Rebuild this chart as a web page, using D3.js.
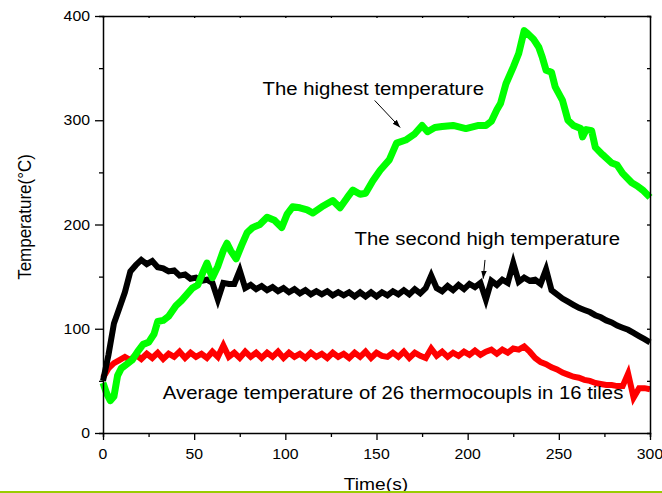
<!DOCTYPE html>
<html>
<head>
<meta charset="utf-8">
<script src="https://cdn.jsdelivr.net/npm/d3@7"></script>
<style>
  body { margin: 0; background: #fff; }
  text { font-family: "Liberation Sans", Arial, sans-serif; fill: #000; }
</style>
</head>
<body>
<svg width="662" height="493"></svg>
<script>
// highest temperature (green)
var highTime = [0, 2, 4, 6, 8, 10, 13, 16, 19, 22, 25, 28, 30, 33, 36, 40, 43, 46, 49, 52, 55, 57, 60, 63, 66, 68, 70, 73, 76, 79, 82, 86, 90, 94, 98, 101, 104, 108, 112, 115, 120, 126, 130, 134, 137, 141, 144, 148, 152, 157, 161, 166, 171, 175, 178, 182, 186, 192, 199, 206, 210, 213, 216, 218, 221, 225, 228, 231, 233, 236, 239, 241, 243, 246, 248, 252, 255, 258, 262, 263, 265, 268, 270, 274, 279, 282, 285, 290, 293, 296, 300];
var highTemp = [48, 38, 31, 35, 55, 62, 66, 70, 78, 85, 87, 95, 107, 108, 112, 122, 127, 133, 139, 142, 155, 163, 149, 160, 175, 182, 175, 167, 180, 192, 197, 200, 207, 204, 197, 210, 217, 216, 214, 211, 217, 223, 216, 226, 233, 229, 230, 242, 252, 262, 278, 281, 287, 295, 289, 293, 294, 295, 292, 295, 295, 299, 310, 316, 335, 351, 364, 386, 383, 378, 370, 360, 348, 346, 332, 319, 300, 295, 292, 284, 291, 290, 274, 267, 259, 257, 249, 240, 237, 233, 226];

// second high temperature (black), every 3 s
var secondTime = d3.range(0, 301, 3);
var secondTemp = [50, 75, 105, 120, 135, 155, 161, 166, 162, 165, 159, 158, 155, 156, 151, 152, 148, 149, 146, 147, 144, 128, 144, 143, 143, 156, 139, 142, 138, 141, 137, 140, 136, 139, 135, 138, 134, 137, 133, 136, 133, 136, 132, 135, 132, 135, 131, 135, 131, 135, 131, 135, 132, 136, 133, 137, 133, 138, 134, 139, 151, 139, 136, 141, 137, 142, 138, 143, 140, 144, 128, 146, 142, 147, 144, 163, 145, 149, 146, 147, 143, 157, 137, 133, 129, 126, 123, 120, 118, 116, 113, 111, 108, 106, 103, 101, 99, 96, 93, 90, 87];

// average of 26 thermocouples (red), every 3 s
var avgTime = d3.range(0, 301, 3);
var avgTemp = [53, 62, 67, 70, 73, 70, 75, 71, 76, 72, 77, 71, 76, 73, 78, 72, 77, 73, 76, 72, 78, 73, 84, 73, 77, 72, 78, 73, 77, 72, 77, 73, 78, 72, 77, 73, 76, 72, 77, 73, 76, 72, 77, 73, 76, 72, 77, 73, 78, 72, 77, 74, 73, 77, 73, 78, 72, 77, 74, 72, 81, 74, 78, 73, 77, 74, 78, 75, 79, 75, 78, 80, 76, 80, 77, 81, 80, 83, 78, 72, 68, 66, 63, 61, 58, 56, 54, 53, 51, 50, 48, 47, 46, 46, 45, 45, 57, 34, 43, 43, 42];

var xTicks = [0, 50, 100, 150, 200, 250, 300];
var yTicks = [0, 100, 200, 300, 400];

var svg = d3.select("svg");
var stretch = 1.13;

var x = d3.scaleLinear().domain([0, 300]).range([103, 650]);
var y = d3.scaleLinear().domain([0, 400]).range([433, 16]);

function label(px, py, str, size, anchor) {
  return svg.append("text")
    .attr("transform", "translate(" + px + "," + py + ") scale(" + stretch + ",1)")
    .attr("text-anchor", anchor || "start")
    .style("font-size", size + "px")
    .text(str);
}

function series(t, v) {
  return t.map(function(d, i) { return [d, v[i]]; });
}

var line = d3.line()
  .x(function(d) { return x(d[0]); })
  .y(function(d) { return y(d[1]); });

// curves
svg.append("path")
  .datum(series(avgTime, avgTemp))
  .attr("d", line)
  .attr("fill", "none")
  .attr("stroke", "#ff0000")
  .attr("stroke-width", 6)
  .attr("stroke-linejoin", "miter")
  .attr("stroke-miterlimit", 10);

svg.append("path")
  .datum(series(secondTime, secondTemp))
  .attr("d", line)
  .attr("fill", "none")
  .attr("stroke", "#000")
  .attr("stroke-width", 6)
  .attr("stroke-linejoin", "miter")
  .attr("stroke-miterlimit", 10);

svg.append("path")
  .datum(series(highTime, highTemp))
  .attr("d", line)
  .attr("fill", "none")
  .attr("stroke", "#00ff00")
  .attr("stroke-width", 7)
  .attr("stroke-linejoin", "round");

// axes
var bottom = svg.append("g").attr("transform", "translate(0," + y(0) + ")")
  .call(d3.axisBottom(x).tickValues(d3.range(0, 301, 25)).tickSize(4).tickFormat(""));
bottom.selectAll(".tick line").filter(function(d) { return d % 50 === 0; }).attr("y2", 7);

var left = svg.append("g").attr("transform", "translate(" + x(0) + ",0)")
  .call(d3.axisLeft(y).tickValues(d3.range(0, 401, 50)).tickSize(4).tickFormat(""));
left.selectAll(".tick line").filter(function(d) { return d % 100 === 0; }).attr("x2", -8);

svg.append("g").attr("transform", "translate(0," + y(400) + ")")
  .call(d3.axisBottom(x).tickValues(d3.range(25, 300, 25)).tickSize(2).tickFormat(""));
svg.append("g").attr("transform", "translate(" + x(300) + ",0)")
  .call(d3.axisRight(y).tickValues(d3.range(50, 400, 50)).tickSize(-3).tickFormat(""));

svg.selectAll(".domain").attr("stroke", "#000").attr("stroke-width", 1.5);
svg.selectAll(".tick line").attr("stroke", "#000").attr("stroke-width", 1.3);

// tick labels
xTicks.forEach(function(d) { label(x(d), 459, d, 14, "middle"); });
yTicks.forEach(function(d) { label(90, y(d) + 5, d, 14, "end"); });

// axis titles
label(376, 490, "Time(s)", 17, "middle");
svg.append("text")
  .attr("transform", "translate(31,217) rotate(-90) scale(1," + stretch + ")")
  .attr("text-anchor", "middle")
  .style("font-size", "17px")
  .text("Temperature(°C)");

// annotations
svg.append("defs").append("marker")
  .attr("id", "head")
  .attr("viewBox", "0 0 10 10")
  .attr("refX", 10).attr("refY", 5)
  .attr("markerWidth", 8).attr("markerHeight", 8)
  .attr("orient", "auto")
  .append("path").attr("d", "M0,1.5L10,5L0,8.5Z").attr("fill", "#000");

function arrow(t1, v1, t2, v2) {
  svg.append("line")
    .attr("x1", x(t1)).attr("y1", y(v1))
    .attr("x2", x(t2)).attr("y2", y(v2))
    .attr("stroke", "#000").attr("stroke-width", 1)
    .attr("marker-end", "url(#head)");
}

label(x(87.5), y(324), "The highest temperature", 18);
arrow(149, 319, 163, 293);
label(x(138), y(180), "The second high temperature", 18);
arrow(209.5, 166, 208.5, 148);
label(x(32.8), y(33), "Average temperature of 26 thermocoupls in 16 tiles", 18);

// bottom rule
svg.append("rect").attr("x", 0).attr("y", 491).attr("width", 662).attr("height", 2).attr("fill", "#99cc00");
</script>
</body>
</html>
